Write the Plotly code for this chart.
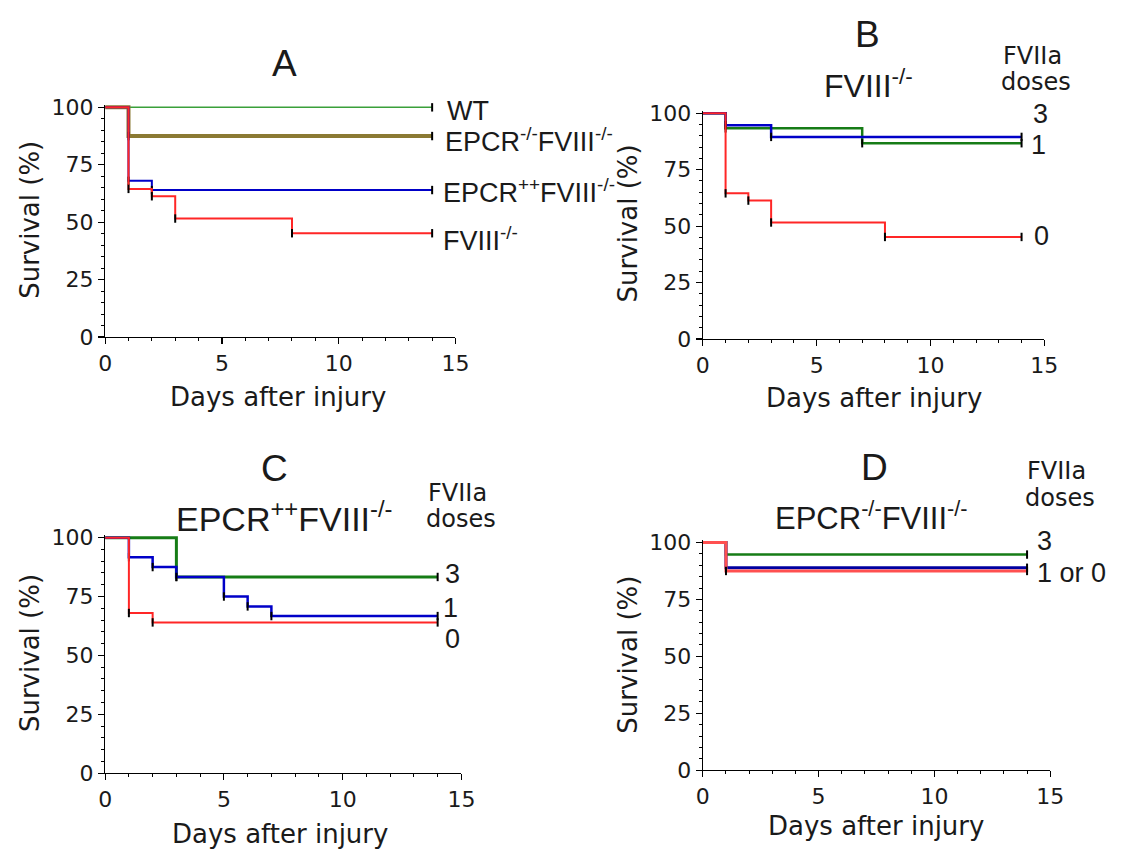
import plotly.graph_objects as go

W, H = 1129, 867
FONT = "Liberation Sans, Arial, sans-serif"
FONT_W = "DejaVu Sans, Verdana, sans-serif"
TXT = "#1a1a1a"
END_DAY = 14

# ---------------- data (days of death, survival % after each step) ----------------
# Panel A
a_wt_days, a_wt_surv = [], []
a_epcrko_days, a_epcrko_surv = [1], [87.5]
a_epcrpp_days, a_epcrpp_surv = [1, 2], [68.0, 64.0]
a_fviii_days, a_fviii_surv = [1, 2, 3, 8], [64.5, 61.3, 51.6, 45.2]
# Panel B (FVIII-/-, FVIIa doses)
b_d3_days, b_d3_surv = [1, 7], [93.3, 86.7]
b_d1_days, b_d1_surv = [1, 3], [94.7, 89.5]
b_d0_days, b_d0_surv = [1, 2, 3, 8], [64.5, 61.3, 51.6, 45.2]
# Panel C (EPCR++FVIII-/-, FVIIa doses)
c_d3_days, c_d3_surv = [3], [83.3]
c_d1_days, c_d1_surv = [1, 2, 3, 5, 6, 7], [91.7, 87.5, 83.3, 75.0, 70.8, 66.7]
c_d0_days, c_d0_surv = [1, 2], [68.0, 64.0]
# Panel D (EPCR-/-FVIII-/-, FVIIa doses)
d_d3_days, d_d3_surv = [1], [94.7]
d_d1_days, d_d1_surv = [1], [88.9]
d_d0_days, d_d0_surv = [1], [87.5]

x_ticks = [0, 5, 10, 15]
y_ticks = [0, 25, 50, 75, 100]

# ---------------- layout geometry (pixels) ----------------
panels = {
    # name: (x_left, x_right, y_at_100, y_at_0)
    "A": (100, 457, 100, 336),
    "B": (709, 1057, 106, 338),
    "C": (100, 463, 542, 784),
    "D": (709, 1063, 547, 781),
}
YTOP = 101


def px(x):
    return x / W


def py(y):
    return 1 - y / H


fig = go.Figure()
axis_ids = {"A": "", "B": "2", "C": "3", "D": "4"}

for name, (xl, xr, p100, p0) in panels.items():
    k = axis_ids[name]
    s = (p0 - p100) / 100.0
    top = p100 - s * (YTOP - 100)
    fig.layout["xaxis" + k] = dict(
        domain=[px(xl), px(xr)], range=[0, 15], anchor="y" + k,
        tickvals=x_ticks, ticks="outside", ticklen=6, tickwidth=1.2, tickcolor="black",
        showline=True, linecolor="black", linewidth=1.2, showgrid=False, zeroline=False,
        tickfont=dict(family=FONT_W, size=22, color=TXT),
        minor=dict(ticks="outside", dtick=1, ticklen=3, tickwidth=1, tickcolor="black"),
        fixedrange=True,
    )
    fig.layout["yaxis" + k] = dict(
        domain=[py(p0), py(top)], range=[0, YTOP], anchor="x" + k,
        tickvals=y_ticks, ticks="outside", ticklen=6, tickwidth=1.2, tickcolor="black",
        showline=True, linecolor="black", linewidth=1.2, showgrid=False, zeroline=False,
        tickfont=dict(family=FONT_W, size=22, color=TXT),
        minor=dict(ticks="outside", dtick=5, ticklen=3, tickwidth=1, tickcolor="black"),
        fixedrange=True,
    )


def add_km(panel, days, surv, color, width):
    k = axis_ids[panel]
    xs = [0] + list(days) + [END_DAY]
    ys = [100] + list(surv) + [surv[-1] if surv else 100]
    fig.add_trace(go.Scatter(
        x=xs, y=ys, mode="lines", line=dict(color=color, width=width, shape="hv"),
        xaxis="x" + k, yaxis="y" + k, showlegend=False, hoverinfo="skip",
    ))
    # censor / event tick marks
    mx = list(days) + [END_DAY]
    my = list(surv) + [surv[-1] if surv else 100]
    fig.add_trace(go.Scatter(
        x=mx, y=my, mode="markers",
        marker=dict(symbol="line-ns", size=6, line=dict(color="black", width=2)),
        xaxis="x" + k, yaxis="y" + k, showlegend=False, hoverinfo="skip", cliponaxis=False,
    ))


GREEN_A = "#3aa03a"
GREEN = "#167c16"
BLUE = "#0000c8"
RED = "#ff2626"
OLIVE = "#8b7a33"

# A
add_km("A", a_wt_days, a_wt_surv, GREEN_A, 1.5)
add_km("A", a_epcrko_days, a_epcrko_surv, OLIVE, 4)
add_km("A", a_epcrpp_days, a_epcrpp_surv, BLUE, 2)
add_km("A", a_fviii_days, a_fviii_surv, RED, 2)
# B
add_km("B", b_d3_days, b_d3_surv, GREEN, 2.5)
add_km("B", b_d1_days, b_d1_surv, BLUE, 2.5)
add_km("B", b_d0_days, b_d0_surv, RED, 2)
# C
add_km("C", c_d3_days, c_d3_surv, GREEN, 3)
add_km("C", c_d1_days, c_d1_surv, BLUE, 2.5)
add_km("C", c_d0_days, c_d0_surv, RED, 2)
# D
add_km("D", d_d3_days, d_d3_surv, GREEN, 2.5)
add_km("D", d_d1_days, d_d1_surv, "#0000a0", 3)
add_km("D", d_d0_days, d_d0_surv, "#ff5050", 3)

ann = []


def text(x, y, t, size, xanchor="center", angle=0, family=FONT):
    ann.append(dict(x=px(x), y=py(y), xref="paper", yref="paper", text=t, showarrow=False,
                    xanchor=xanchor, yanchor="middle", textangle=angle,
                    font=dict(family=family, size=size, color=TXT)))


# panel letters and subtitles
text(283, 55, "A", 37)
text(877, 25, "B", 37)
text(878, 76, "FVIII<sup>-/-</sup>", 32)
text(273, 471, "C", 37)
text(283, 520, "EPCR<sup>++</sup>FVIII<sup>-/-</sup>", 34)
text(884, 470, "D", 37)
text(881, 520, "EPCR<sup>-/-</sup>FVIII<sup>-/-</sup>", 31)

# FVIIa doses headers
for (cx, cy) in [(1045, 47), (459, 496), (1069, 474)]:
    text(cx, cy, "FVIIa", 24, family=FONT_W)
    text(cx + 4, cy + 27, "doses", 24, family=FONT_W)

# panel A series labels
text(446, 104, "WT", 27, "left")
text(444, 134, "EPCR<sup>-/-</sup>FVIII<sup>-/-</sup>", 27, "left")
text(442, 186, "EPCR<sup>++</sup>FVIII<sup>-/-</sup>", 27, "left")
text(442, 235, "FVIII<sup>-/-</sup>", 27, "left")

# dose numbers
text(1043, 107, "3", 27, "left")
text(1041, 139, "1", 27, "left")
text(1044, 232, "0", 27, "left")
text(444, 579, "3", 27, "left")
text(442, 614, "1", 27, "left")
text(444, 646, "0", 27, "left")
text(1047, 545, "3", 27, "left")
text(1047, 578, "1 or 0", 27, "left")

# axis titles
for (cx, cy) in [(24, 216), (633, 219), (24, 661), (633, 662)]:
    text(cx, cy, "Survival (%)", 26, angle=-90, family=FONT_W)
for (cx, cy) in [(276, 398), (883, 399), (278, 846), (885, 838)]:
    text(cx, cy, "Days after injury", 26, family=FONT_W)

fig.update_layout(
    width=W, height=H, autosize=False,
    margin=dict(l=0, r=0, t=0, b=0),
    paper_bgcolor="white", plot_bgcolor="white",
    annotations=ann, showlegend=False,
)

POST = """
document.documentElement.style.margin='0';
document.documentElement.style.padding='0';
document.documentElement.style.overflow='hidden';
document.body.style.margin='0';
document.body.style.padding='0';
document.body.style.overflow='hidden';
var g = document.getElementsByClassName('plotly-graph-div');
for (var i = 0; i < g.length; i++) {
  g[i].style.position = 'fixed';
  g[i].style.left = '0px';
  g[i].style.top = '0px';
}
"""

fig.write_html(
    "out.html",
    config={"displayModeBar": False, "staticPlot": True},
    post_script=POST,
)
